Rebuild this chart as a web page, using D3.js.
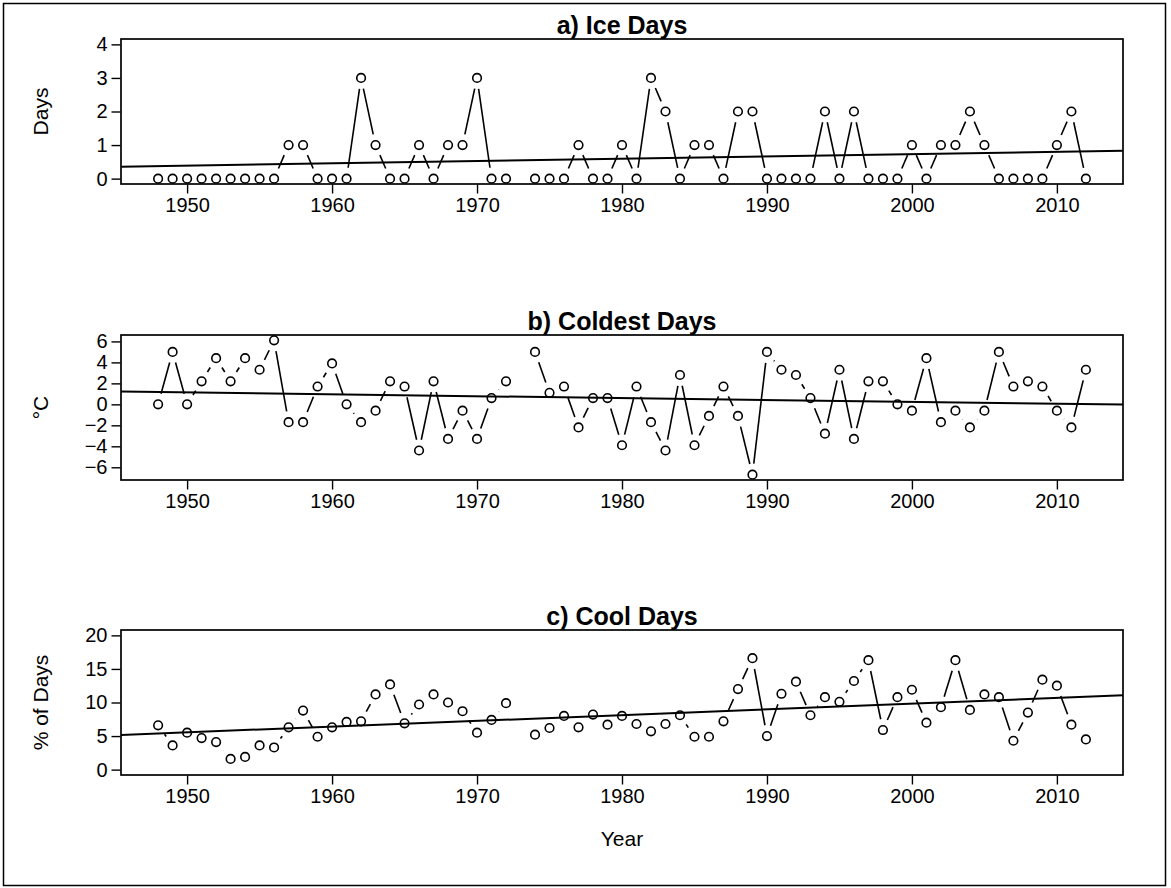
<!DOCTYPE html>
<html>
<head>
<meta charset="utf-8">
<script src="https://cdn.jsdelivr.net/npm/d3@7"></script>
<style>
  html, body { margin: 0; padding: 0; background: #fff; }
  svg { display: block; }
  text { font-family: "Liberation Sans", Arial, Helvetica, sans-serif; fill: #000; }
</style>
</head>
<body>
<svg id="chart" width="1171" height="888"></svg>
<script>
// Annual series, 1948–2012 (no record for 1973)
const years = [1948,1949,1950,1951,1952,1953,1954,1955,1956,1957,1958,1959,1960,1961,1962,1963,1964,1965,1966,1967,1968,1969,1970,1971,1972,1973,1974,1975,1976,1977,1978,1979,1980,1981,1982,1983,1984,1985,1986,1987,1988,1989,1990,1991,1992,1993,1994,1995,1996,1997,1998,1999,2000,2001,2002,2003,2004,2005,2006,2007,2008,2009,2010,2011,2012];

const iceDays = [0,0,0,0,0,0,0,0,0,1,1,0,0,0,3,1,0,0,1,0,1,1,3,0,0,null,0,0,0,1,0,0,1,0,3,2,0,1,1,0,2,2,0,0,0,0,2,0,2,0,0,0,1,0,1,1,2,1,0,0,0,0,1,2,0];

const coldestDays = [0.0,5.0,0.0,2.2,4.4,2.2,4.4,3.3,6.1,-1.7,-1.7,1.7,3.9,0.0,-1.7,-0.6,2.2,1.7,-4.4,2.2,-3.3,-0.6,-3.3,0.6,2.2,null,5.0,1.1,1.7,-2.2,0.6,0.6,-3.9,1.7,-1.7,-4.4,2.8,-3.9,-1.1,1.7,-1.1,-6.7,5.0,3.3,2.8,0.6,-2.8,3.3,-3.3,2.2,2.2,0.0,-0.6,4.4,-1.7,-0.6,-2.2,-0.6,5.0,1.7,2.2,1.7,-0.6,-2.2,3.3];

const coolDays = [6.6,3.6,5.5,4.7,4.1,1.6,1.9,3.6,3.3,6.3,8.8,4.9,6.3,7.1,7.2,11.2,12.7,6.9,9.7,11.2,10.0,8.7,5.5,7.4,9.9,null,5.2,6.2,8.0,6.3,8.2,6.7,8.0,6.8,5.7,6.8,8.1,4.9,4.9,7.2,12.0,16.6,5.0,11.3,13.1,8.1,10.8,10.1,13.2,16.3,5.9,10.8,11.9,7.0,9.3,16.3,8.9,11.2,10.8,4.3,8.5,13.4,12.5,6.7,4.5];

const iceTicks = [0,1,2,3,4];
const coldTicks = [-6,-4,-2,0,2,4,6];
const coolTicks = [0,5,10,15,20];
const yearTicks = [1950,1960,1970,1980,1990,2000,2010];

const panels = [
  { title: "a) Ice Days",     ylab: "Days",      values: iceDays,     ticks: iceTicks,  ylim: [0, 4] },
  { title: "b) Coldest Days", ylab: "°C",        values: coldestDays, ticks: coldTicks, ylim: null },
  { title: "c) Cool Days",    ylab: "% of Days", values: coolDays,    ticks: coolTicks, ylim: [0, 20] }
];

const svg = d3.select("#chart");

// outer frame
svg.append("rect")
  .attr("x", 3.5).attr("y", 3.5)
  .attr("width", 1162).attr("height", 882)
  .attr("fill", "none").attr("stroke", "#000").attr("stroke-width", 1.5);

const plotLeft = 121, plotRight = 1123;
const plotTops = [39, 335, 630];
const plotH = 145;
const pad = 0.04;   // axis range padding on each side

const xr = d3.extent(years);
const xSpan = xr[1] - xr[0];
const x = d3.scaleLinear()
  .domain([xr[0] - pad * xSpan, xr[1] + pad * xSpan])
  .range([plotLeft, plotRight]);

const fmt = v => (v < 0 ? "\u2212" + Math.abs(v) : String(v));

panels.forEach((p, i) => {
  const top = plotTops[i];
  const bottom = top + plotH;
  const pts = years.map((yr, k) => ({ yr, v: p.values[k] }));
  const valid = pts.filter(d => d.v != null);

  const lim = p.ylim || d3.extent(valid, d => d.v);
  const span = lim[1] - lim[0];
  const y = d3.scaleLinear()
    .domain([lim[0] - pad * span, lim[1] + pad * span])
    .range([bottom, top]);

  const g = svg.append("g");

  // y axis
  const yAxis = d3.axisLeft(y).tickValues(p.ticks).tickSize(9).tickPadding(4).tickFormat(fmt);
  const ya = g.append("g").attr("transform", `translate(${plotLeft - 0.5},0)`).call(yAxis);
  ya.select(".domain").remove();
  ya.selectAll(".tick line").attr("stroke", "#000").attr("stroke-width", 1.4);
  ya.selectAll(".tick text").attr("font-size", 20).attr("font-family", "Liberation Sans, Arial, sans-serif");

  // x axis
  const xAxis = d3.axisBottom(x).tickValues(yearTicks).tickSize(9).tickPadding(4).tickFormat(d3.format("d"));
  const xa = g.append("g").attr("transform", `translate(0,${bottom + 0.5})`).call(xAxis);
  xa.select(".domain").remove();
  xa.selectAll(".tick line").attr("stroke", "#000").attr("stroke-width", 1.4);
  xa.selectAll(".tick text").attr("font-size", 20).attr("font-family", "Liberation Sans, Arial, sans-serif");

  // clip for the trend line
  const clipId = "clip" + i;
  svg.append("clipPath").attr("id", clipId)
    .append("rect").attr("x", plotLeft).attr("y", top).attr("width", plotRight - plotLeft).attr("height", plotH);

  // least-squares trend across the full plotting range
  const mx = d3.mean(valid, d => d.yr), my = d3.mean(valid, d => d.v);
  const slope = d3.sum(valid, d => (d.yr - mx) * (d.v - my)) / d3.sum(valid, d => (d.yr - mx) ** 2);
  const icpt = my - slope * mx;
  const [x0, x1] = x.domain();
  g.append("line")
    .attr("clip-path", `url(#${clipId})`)
    .attr("x1", x(x0)).attr("y1", y(icpt + slope * x0))
    .attr("x2", x(x1)).attr("y2", y(icpt + slope * x1))
    .attr("stroke", "#000").attr("stroke-width", 2);

  // connecting segments, trimmed short of each point marker
  const gap = 11;
  for (let k = 0; k < pts.length - 1; k++) {
    const a = pts[k], b = pts[k + 1];
    if (a.v == null || b.v == null) continue;
    const ax = x(a.yr), ay = y(a.v), bx = x(b.yr), by = y(b.v);
    const d = Math.hypot(bx - ax, by - ay);
    if (d <= 2 * gap) continue;
    const f = gap / d;
    g.append("line")
      .attr("x1", ax + (bx - ax) * f).attr("y1", ay + (by - ay) * f)
      .attr("x2", bx - (bx - ax) * f).attr("y2", by - (by - ay) * f)
      .attr("stroke", "#000").attr("stroke-width", 1.6);
  }

  // open circle markers
  g.selectAll("circle.pt").data(valid).join("circle")
    .attr("class", "pt")
    .attr("cx", d => x(d.yr)).attr("cy", d => y(d.v))
    .attr("r", 4.3)
    .attr("fill", "none").attr("stroke", "#000").attr("stroke-width", 1.6);

  // plot box
  g.append("rect")
    .attr("x", plotLeft).attr("y", top)
    .attr("width", plotRight - plotLeft).attr("height", plotH)
    .attr("fill", "none").attr("stroke", "#000").attr("stroke-width", 1.7);

  // title
  g.append("text")
    .attr("x", (plotLeft + plotRight) / 2).attr("y", top - 5)
    .attr("text-anchor", "middle")
    .attr("font-size", 25).attr("font-weight", "bold")
    .text(p.title);

  // y label
  g.append("text")
    .attr("transform", `translate(48,${top + plotH / 2}) rotate(-90)`)
    .attr("text-anchor", "middle")
    .attr("font-size", 21)
    .text(p.ylab);
});

// x label on the last panel
svg.append("text")
  .attr("x", (plotLeft + plotRight) / 2).attr("y", 846)
  .attr("text-anchor", "middle")
  .attr("font-size", 21)
  .text("Year");
</script>
</body>
</html>
